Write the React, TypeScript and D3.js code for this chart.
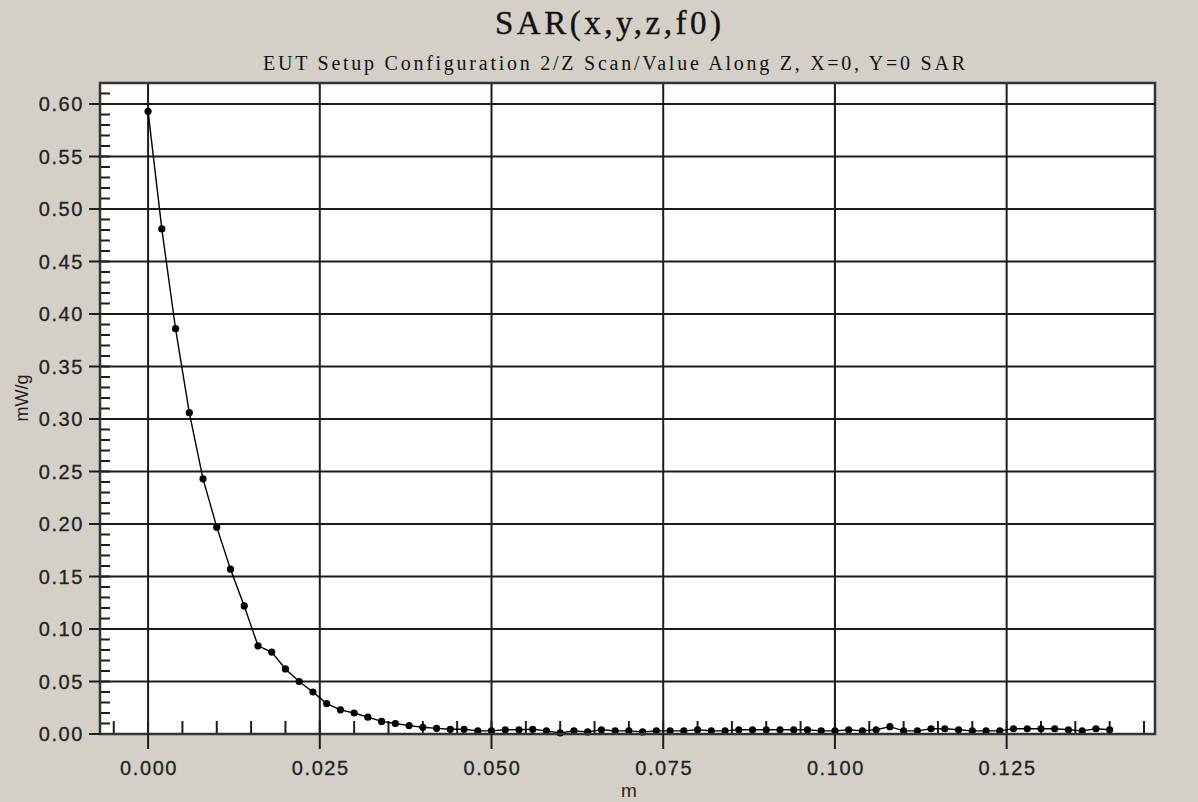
import React from "react";
import * as d3 from "d3";

// Labels
const TITLE = "SAR(x,y,z,f0)";
const SUBTITLE = "EUT Setup Configuration 2/Z Scan/Value Along Z, X=0, Y=0 SAR";
const X_LABEL = "m";
const Y_LABEL = "mW/g";

// Probe position along Z (m)
const zPositions = [
  0.0, 0.002, 0.004, 0.006, 0.008, 0.01, 0.012, 0.014, 0.016, 0.018,
  0.02, 0.022, 0.024, 0.026, 0.028, 0.03, 0.032, 0.034, 0.036, 0.038,
  0.04, 0.042, 0.044, 0.046, 0.048, 0.05, 0.052, 0.054, 0.056, 0.058,
  0.06, 0.062, 0.064, 0.066, 0.068, 0.07, 0.072, 0.074, 0.076, 0.078,
  0.08, 0.082, 0.084, 0.086, 0.088, 0.09, 0.092, 0.094, 0.096, 0.098,
  0.1, 0.102, 0.104, 0.106, 0.108, 0.11, 0.112, 0.114, 0.116, 0.118,
  0.12, 0.122, 0.124, 0.126, 0.128, 0.13, 0.132, 0.134, 0.136, 0.138,
  0.14,
];

// SAR value at each position (mW/g)
const sarValues = [
  0.593, 0.481, 0.386, 0.306, 0.243, 0.197, 0.157, 0.122, 0.084, 0.078,
  0.062, 0.05, 0.04, 0.029, 0.023, 0.02, 0.016, 0.012, 0.01, 0.008,
  0.0064, 0.0054, 0.0045, 0.0045, 0.003, 0.003, 0.004, 0.004, 0.0045, 0.003,
  0.001, 0.003, 0.002, 0.004, 0.003, 0.003, 0.002, 0.003, 0.003, 0.003,
  0.004, 0.003, 0.003, 0.004, 0.004, 0.004, 0.004, 0.004, 0.004, 0.003,
  0.003, 0.004, 0.003, 0.004, 0.007, 0.003, 0.003, 0.005, 0.005, 0.004,
  0.003, 0.003, 0.003, 0.005, 0.005, 0.005, 0.005, 0.004, 0.003, 0.005,
  0.004,
];

const xTicks = [0, 0.025, 0.05, 0.075, 0.1, 0.125];
const yTicks = [0, 0.05, 0.1, 0.15, 0.2, 0.25, 0.3, 0.35, 0.4, 0.45, 0.5, 0.55, 0.6];

const W = 1198;
const H = 802;
const plot = { left: 100, top: 83, right: 1155, bottom: 734 };

export default function App() {
  const x = d3.scaleLinear().domain([-0.007, 0.1466]).range([plot.left, plot.right]);
  const y = d3.scaleLinear().domain([0, 0.62]).range([plot.bottom, plot.top]);

  const points = zPositions.map((z, i) => ({ z, v: sarValues[i] }));
  const line = d3
    .line<{ z: number; v: number }>()
    .x((d) => x(d.z))
    .y((d) => y(d.v));

  const xMinor = d3.range(-0.005, 0.1451, 0.005);
  const yMinor = d3.range(0.01, 0.615, 0.01);
  const fx = d3.format(".3f");
  const fy = d3.format(".2f");

  const tickFont = "'Liberation Sans', Arial, sans-serif";
  const serif = "'Liberation Serif', 'Times New Roman', serif";
  const ink = "#1c1c1c";

  return (
    <svg
      width={W}
      height={H}
      style={{ position: "absolute", left: 0, top: 0, display: "block" }}
    >
      <rect x={0} y={0} width={W} height={H} fill="#D4D0C8" />

      <text
        x={608}
        y={34}
        textAnchor="middle"
        fontFamily={serif}
        fontSize={33}
        textLength={226}
        lengthAdjust="spacing"
        fill="#111"
        stroke="#111"
        strokeWidth={0.4}
      >
        {TITLE}
      </text>
      <text
        x={614}
        y={70}
        textAnchor="middle"
        fontFamily={serif}
        fontSize={20}
        textLength={702}
        lengthAdjust="spacing"
        fill="#111"
      >
        {SUBTITLE}
      </text>

      <rect
        x={plot.left}
        y={plot.top}
        width={plot.right - plot.left}
        height={plot.bottom - plot.top}
        fill="#fff"
      />

      {/* grid */}
      {yTicks.map((t) => (
        <line
          key={"gy" + t}
          x1={plot.left}
          x2={plot.right}
          y1={y(t)}
          y2={y(t)}
          stroke={ink}
          strokeWidth={2}
        />
      ))}
      {xTicks.map((t) => (
        <line
          key={"gx" + t}
          x1={x(t)}
          x2={x(t)}
          y1={plot.top}
          y2={plot.bottom}
          stroke={ink}
          strokeWidth={2}
        />
      ))}

      {/* minor ticks */}
      {xMinor.map((t) => (
        <line
          key={"mx" + t}
          x1={x(t)}
          x2={x(t)}
          y1={plot.bottom}
          y2={plot.bottom - 13}
          stroke={ink}
          strokeWidth={2}
        />
      ))}
      {yMinor.map((t) => (
        <line
          key={"my" + t}
          x1={plot.left}
          x2={plot.left + 10}
          y1={y(t)}
          y2={y(t)}
          stroke={ink}
          strokeWidth={2}
        />
      ))}

      {/* data */}
      <path d={line(points) || ""} fill="none" stroke="#000" strokeWidth={1.4} />
      {points.map((p, i) => (
        <circle key={"p" + i} cx={x(p.z)} cy={y(p.v)} r={3.6} fill="#000" />
      ))}

      {/* frame */}
      <rect
        x={plot.left}
        y={plot.top}
        width={plot.right - plot.left}
        height={plot.bottom - plot.top}
        fill="none"
        stroke="#333"
        strokeWidth={2.5}
      />

      {/* major ticks and labels */}
      {xTicks.map((t) => (
        <g key={"tx" + t}>
          <line
            x1={x(t)}
            x2={x(t)}
            y1={plot.bottom}
            y2={plot.bottom + 15}
            stroke={ink}
            strokeWidth={2}
          />
          <text
            x={x(t) + 1}
            y={775}
            textAnchor="middle"
            fontFamily={tickFont}
            fontSize={20}
            letterSpacing={1.6}
            fill="#222"
            stroke="#222"
            strokeWidth={0.3}
          >
            {fx(t)}
          </text>
        </g>
      ))}
      {yTicks.map((t) => (
        <g key={"ty" + t}>
          <line
            x1={plot.left - 11}
            x2={plot.left}
            y1={y(t)}
            y2={y(t)}
            stroke={ink}
            strokeWidth={2}
          />
          <text
            x={84}
            y={y(t)}
            dy="0.36em"
            textAnchor="end"
            fontFamily={tickFont}
            fontSize={20}
            letterSpacing={1.6}
            fill="#222"
            stroke="#222"
            strokeWidth={0.3}
          >
            {fy(t)}
          </text>
        </g>
      ))}

      <text
        x={629}
        y={797}
        textAnchor="middle"
        fontFamily={tickFont}
        fontSize={19}
        fill="#222"
      >
        {X_LABEL}
      </text>
      <text
        transform={`translate(28,${398}) rotate(-90)`}
        textAnchor="middle"
        fontFamily={tickFont}
        fontSize={18}
        fill="#222"
      >
        {Y_LABEL}
      </text>
    </svg>
  );
}
